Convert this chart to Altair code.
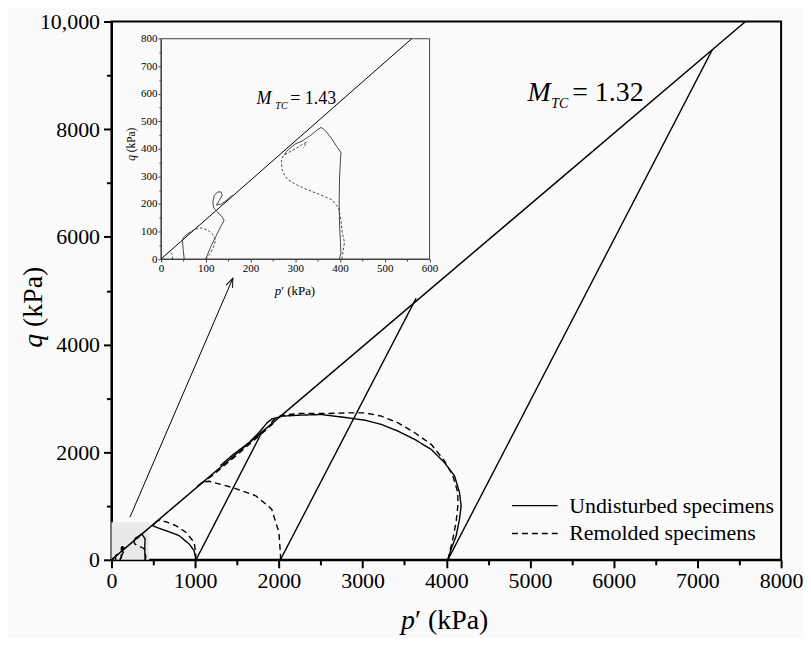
import altair as alt
import pandas as pd

UND = "Undisturbed specimens"
REM = "Remolded specimens"
TYPES = [UND, REM]

# ---------------- data (kPa) ----------------
# critical state lines
csl_p = [0, 7575]
csl_q = [0, 10000]
icsl_p = [0, 560]
icsl_q = [0, 800]
mtc_main = "1.32"
mtc_inset = "1.43"

# drained tests (undisturbed)
d1000_p = [1010, 1800]
d1000_q = [0, 2380]
d2000_p = [2018, 3640]
d2000_q = [0, 4860]
d4000_p = [4019, 7177]
d4000_q = [0, 9473]

# undrained tests, high pressure
u1000_p = [1010, 987, 927, 808, 650, 560, 491, 531, 591]
u1000_q = [0, 170, 296, 450, 542, 590, 634, 697, 770]
r1000_p = [1006, 1006, 987, 888, 769, 650, 571, 556]
r1000_q = [0, 140, 327, 512, 634, 708, 727, 735]
r2000_p = [2018, 2020, 2000, 1914, 1724, 1440, 1165, 1090, 1020, 1200, 1500, 1800, 1950]
r2000_q = [0, 70, 515, 940, 1190, 1345, 1460, 1445, 1360, 1560, 1950, 2350, 2560]
u4000_p = [4019, 4058, 4117, 4158, 4177, 4158, 4098, 3979, 3820, 3623, 3424, 3226,
           3028, 2830, 2513, 2235, 2037, 1918, 1859, 1760, 1641, 1450, 1300]
u4000_q = [0, 200, 440, 760, 1000, 1250, 1560, 1805, 2050, 2236, 2390, 2514,
           2593, 2637, 2699, 2686, 2668, 2619, 2545, 2360, 2175, 1950, 1750]
r4000_p = [4019, 4078, 4117, 4138, 4138, 4078, 3980, 3820, 3623, 3424, 3226, 3028,
           2830, 2552, 2235, 2037, 1950, 1880]
r4000_q = [0, 389, 700, 1000, 1250, 1560, 1835, 2145, 2360, 2545, 2668, 2730,
           2730, 2717, 2717, 2686, 2620, 2500]

# undrained tests, low pressure (shown in the inset)
u400_p = [398, 402, 401, 399, 398, 399, 401, 402, 392, 380, 368, 358, 350, 335, 315, 300, 290, 280, 276]
u400_q = [0, 20, 60, 120, 200, 300, 360, 387, 410, 440, 465, 478, 470, 450, 428, 418, 405, 390, 378]
r400_p = [404, 407, 410, 405, 402, 397, 382, 352, 322, 300, 282, 271, 269, 273, 286, 300, 315, 325, 318]
r400_q = [0, 30, 60, 95, 140, 185, 215, 236, 255, 272, 290, 320, 355, 375, 388, 400, 415, 425, 402]
u100_p = [100, 111, 122, 133, 141, 137, 126, 118, 116, 119, 126, 134, 137, 130, 124, 135, 148, 160]
u100_q = [0, 43, 80, 116, 140, 152, 172, 185, 205, 230, 243, 244, 232, 212, 196, 200, 215, 232]
r100_p = [100, 110, 118, 122, 115, 105, 90, 75, 63]
r100_q = [0, 20, 45, 68, 90, 105, 113, 108, 95]
u50_p = [52, 50, 48, 52, 60, 68]
u50_q = [0, 30, 68, 82, 92, 100]
r25_p = [26, 25, 20, 12]
r25_q = [0, 18, 28, 18]

# zoomed region and arrow (kPa, main scale)
box_p = [0, 450]
box_q = [0, 700]
arrow_p = [220, 1450]
arrow_q = [790, 5230]


def curve(name, kind, ps, qs):
    return pd.DataFrame({"test": name, "type": kind, "p": ps, "q": qs, "i": list(range(len(ps)))})


low = [
    curve("U400", UND, u400_p, u400_q),
    curve("R400", REM, r400_p, r400_q),
    curve("U100", UND, u100_p, u100_q),
    curve("R100", REM, r100_p, r100_q),
    curve("U50", UND, u50_p, u50_q),
    curve("R25", REM, r25_p, r25_q),
]
main_df = pd.concat([
    curve("D1000", UND, d1000_p, d1000_q),
    curve("D2000", UND, d2000_p, d2000_q),
    curve("D4000", UND, d4000_p, d4000_q),
    curve("U1000", UND, u1000_p, u1000_q),
    curve("R1000", REM, r1000_p, r1000_q),
    curve("R2000", REM, r2000_p, r2000_q),
    curve("U4000", UND, u4000_p, u4000_q),
    curve("R4000", REM, r4000_p, r4000_q),
] + low, ignore_index=True)
inset_df = pd.concat(low, ignore_index=True)

csl_df = pd.DataFrame({"p": csl_p, "q": csl_q})
icsl_df = pd.DataFrame({"p": icsl_p, "q": icsl_q})
box_df = pd.DataFrame({"p0": [box_p[0]], "p1": [box_p[1]], "q0": [box_q[0]], "q1": [box_q[1]]})
arrow_df = pd.DataFrame({"p0": [arrow_p[0]], "p1": [arrow_p[1]], "q0": [arrow_q[0]], "q1": [arrow_q[1]]})

W, H = 673, 541
FONT = "Liberation Serif"

# ---------------- main scales / axes ----------------
xs = alt.Scale(domain=[0, 8000], nice=False, zero=False)
ys = alt.Scale(domain=[0, 10000], nice=False, zero=False)

x_axis = alt.Axis(
    values=list(range(0, 8001, 500)),
    labelExpr="datum.value % 1000 ? '' : format(datum.value, 'd')",
    tickSize={"condition": {"test": "datum.value % 1000 === 0", "value": 8}, "value": 5},
    title=None, grid=False, labelFlush=False, labelOverlap=False,
    labelFontSize=22, labelPadding=3,
)
y_axis = alt.Axis(
    values=list(range(0, 10001, 1000)),
    labelExpr="datum.value % 2000 ? '' : (datum.value >= 10000 ? format(datum.value, ',') : format(datum.value, 'd'))",
    tickSize={"condition": {"test": "datum.value % 2000 === 0", "value": 8}, "value": 5},
    title=None, grid=False, labelFlush=False, labelOverlap=False,
    labelFontSize=22, labelPadding=4,
)

box = alt.Chart(box_df).mark_rect(color="#e9e9e9").encode(
    x=alt.X("p0:Q", scale=xs, axis=x_axis), x2="p1",
    y=alt.Y("q0:Q", scale=ys, axis=y_axis), y2="q1")

csl = alt.Chart(csl_df).mark_line(color="black", strokeWidth=1.5).encode(
    x=alt.X("p:Q", scale=xs, axis=None), y=alt.Y("q:Q", scale=ys, axis=None))

curves = alt.Chart(main_df).mark_line(color="black", strokeWidth=1.4).encode(
    x=alt.X("p:Q", scale=xs, axis=None),
    y=alt.Y("q:Q", scale=ys, axis=None),
    detail="test:N",
    order="i:Q",
    strokeDash=alt.StrokeDash(
        "type:N",
        scale=alt.Scale(domain=TYPES, range=[[1, 0], [6, 4]]),
        legend=alt.Legend(
            title=None, orient="none", legendX=413, legendY=474,
            symbolType="M-2,0H2", symbolSize=529, symbolStrokeWidth=1.4,
            symbolStrokeColor="black",
            labelFont=FONT, labelFontSize=22, labelColor="black", labelLimit=0,
            labelOffset=22, rowPadding=4, padding=0,
        ),
    ),
)

shaft = alt.Chart(arrow_df).mark_rule(color="black", strokeWidth=1).encode(
    x=alt.X("p0:Q", scale=xs, axis=None), x2="p1",
    y=alt.Y("q0:Q", scale=ys, axis=None), y2="q1")
head = alt.Chart(arrow_df).mark_point(
    shape="M-0.7,1.8L0,0L0.7,1.8", filled=False, size=100, color="black",
    strokeWidth=1, angle=23, opacity=1).encode(
    x=alt.X("p1:Q", scale=xs, axis=None), y=alt.Y("q1:Q", scale=ys, axis=None))

one = pd.DataFrame({"a": [0]})


def label(text, x, y, size, style="normal", angle=0, align="left"):
    return alt.Chart(one).mark_text(
        font=FONT, fontSize=size, fontStyle=style, angle=angle, align=align,
        baseline="alphabetic", color="black").encode(
        x=alt.value(x), y=alt.value(y), text=alt.value(text))


texts = [
    label("M", 418, 80, 28, "italic"),
    label("TC", 442, 87, 14, "italic"),
    label("= " + mtc_main, 463, 80, 28),
    label("p", 291, 611, 28, "italic"),
    label("\u2032 (kPa)", 305, 611, 28),
    label("q", -70, 328, 28, "italic", angle=270),
    label("(kPa)", -70, 307, 28, angle=270),
]

# ---------------- inset ----------------
IX0, IX1, IY0, IY1 = 49.7, 319.7, 238.7, 17.3
ixs = alt.Scale(domain=[0, 600], range=[IX0, IX1], nice=False, zero=False)
iys = alt.Scale(domain=[0, 800], range=[IY0, IY1], nice=False, zero=False)
ix_axis = alt.Axis(
    orient="bottom", offset=-(H - IY0),
    values=list(range(0, 601, 50)),
    labelExpr="datum.value % 100 ? '' : format(datum.value, 'd')",
    tickSize={"condition": {"test": "datum.value % 100 === 0", "value": 3}, "value": 2},
    title=None, grid=False, labelFlush=False, labelOverlap=False,
    labelFontSize=11, labelPadding=1, domainWidth=1, tickWidth=1,
    domainColor="#444", tickColor="#444",
)
iy_axis = alt.Axis(
    orient="left", offset=-IX0,
    values=list(range(0, 801, 50)),
    labelExpr="datum.value % 100 ? '' : format(datum.value, 'd')",
    tickSize={"condition": {"test": "datum.value % 100 === 0", "value": 3}, "value": 2},
    title=None, grid=False, labelFlush=False, labelOverlap=False,
    labelFontSize=11, labelPadding=1, domainWidth=1, tickWidth=1,
    domainColor="#444", tickColor="#444",
)
frame_df = pd.DataFrame({"p0": [0], "p1": [600], "q0": [0], "q1": [800]})
frame = alt.Chart(frame_df).mark_rect(fillOpacity=0, stroke="#444", strokeWidth=1).encode(
    x=alt.X("p0:Q", scale=ixs, axis=ix_axis), x2="p1",
    y=alt.Y("q0:Q", scale=iys, axis=iy_axis), y2="q1")
icsl = alt.Chart(icsl_df).mark_line(color="black", strokeWidth=1).encode(
    x=alt.X("p:Q", scale=ixs, axis=None), y=alt.Y("q:Q", scale=iys, axis=None))
i_und = alt.Chart(inset_df).transform_filter(alt.datum.type == UND).mark_line(
    color="#333", strokeWidth=0.9).encode(
    x=alt.X("p:Q", scale=ixs, axis=None), y=alt.Y("q:Q", scale=iys, axis=None),
    detail="test:N", order="i:Q")
i_rem = alt.Chart(inset_df).transform_filter(alt.datum.type == REM).mark_line(
    color="#333", strokeWidth=0.9, strokeDash=[2.5, 2]).encode(
    x=alt.X("p:Q", scale=ixs, axis=None), y=alt.Y("q:Q", scale=iys, axis=None),
    detail="test:N", order="i:Q")

texts += [
    label("M", 145.7, 83.3, 18, "italic"),
    label("TC", 164.7, 88, 10, "italic"),
    label("= " + mtc_inset, 179.7, 83.3, 18),
    label("p", 164, 275, 13, "italic"),
    label("\u2032 (kPa)", 170.5, 275, 13),
    label("q", 24, 140, 11.5, "italic", angle=270),
    label("(kPa)", 24, 131.5, 11.5, angle=270),
]

chart = alt.layer(
    box, csl, curves, shaft, head, frame, icsl, i_und, i_rem, *texts
).resolve_scale(
    x="independent", y="independent"
).resolve_axis(
    x="independent", y="independent"
).properties(
    width=W, height=H,
    autosize=alt.AutoSizeParams(type="none"),
    padding={"left": 104, "top": 12, "right": 22, "bottom": 77},
    background="#fafafa",
).configure_view(
    stroke="black", strokeWidth=2
).configure_axis(
    labelFont=FONT, labelColor="black", domainColor="black", domainWidth=2,
    tickColor="black", tickWidth=2,
)

chart.save("out.html", embed_options={"renderer": "svg", "actions": False})
